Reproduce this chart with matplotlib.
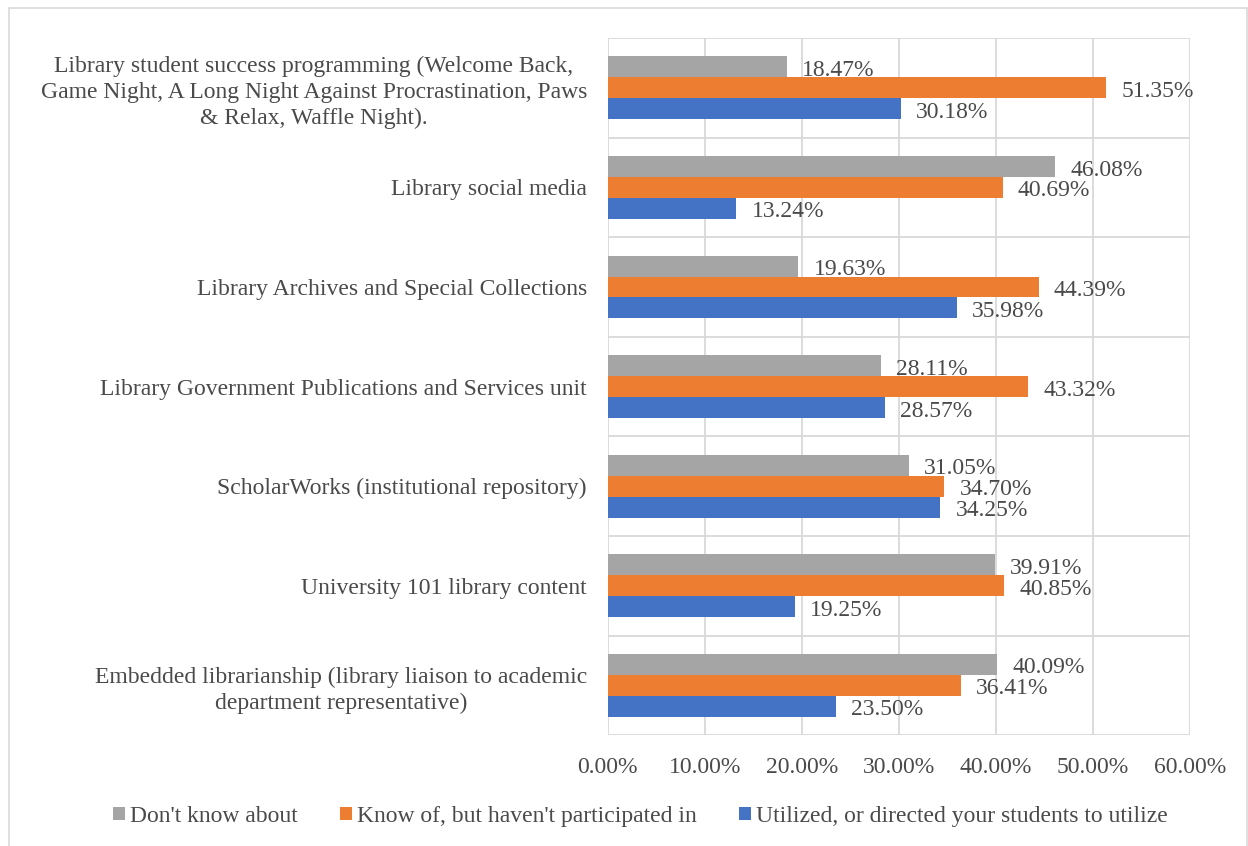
import numpy as np
import matplotlib
matplotlib.use("Agg")
import matplotlib.pyplot as plt
from matplotlib.patches import Rectangle
from matplotlib.ticker import FixedLocator, PercentFormatter

plt.rcParams['font.family'] = ['Liberation Serif', 'DejaVu Serif']

categories = [
    "Library student success programming (Welcome Back,\nGame Night, A Long Night Against Procrastination, Paws\n& Relax, Waffle Night).",
    "Library social media",
    "Library Archives and Special Collections",
    "Library Government Publications and Services unit",
    "ScholarWorks (institutional repository)",
    "University 101 library content",
    "Embedded librarianship (library liaison to academic\ndepartment representative)",
]
dont_know = [18.47, 46.08, 19.63, 28.11, 31.05, 39.91, 40.09]
know_of = [51.35, 40.69, 44.39, 43.32, 34.70, 40.85, 36.41]
utilized = [30.18, 13.24, 35.98, 28.57, 34.25, 19.25, 23.50]
series_names = ["Don't know about", "Know of, but haven't participated in",
                "Utilized, or directed your students to utilize"]
colors = ["#A5A5A5", "#ED7D31", "#4472C4"]

text_col = "#4A4A4A"
fs = 17

fig = plt.figure(figsize=(12.48, 8.46), dpi=100)
ax = fig.add_axes([0.487, 0.131, 0.4665, 0.824])

y = np.arange(len(categories))
h = 0.21
for k, (vals, c, name) in enumerate(zip([dont_know, know_of, utilized], colors, series_names)):
    pos = y + (k - 1) * h
    bars = ax.barh(pos, vals, height=h, color=c, label=name, zorder=3)
    for b, v in zip(bars, vals):
        ax.annotate(f"{v:.2f}%", (v, b.get_y() + h / 2), xytext=(11, -2.5),
                    textcoords="offset points", va="center", ha="left",
                    fontsize=fs, color=text_col, zorder=4)

ax.set_xlim(0, 60)
ax.set_ylim(len(categories) - 0.5, -0.5)
ax.set_xticks(np.arange(0, 61, 10))
ax.xaxis.set_major_formatter(PercentFormatter(decimals=2))
ax.set_yticks(y)
ax.set_yticklabels(categories, ha="right", multialignment="center", linespacing=1.3)
ax.yaxis.set_minor_locator(FixedLocator(np.arange(-0.5, len(categories), 1)))
ax.tick_params(axis="both", which="both", length=0, labelsize=fs, labelcolor=text_col)
ax.tick_params(axis="x", pad=16)
ax.tick_params(axis="y", pad=15)

ax.grid(axis="x", which="major", color="#D9D9D9", lw=1.3, zorder=0)
ax.grid(axis="y", which="minor", color="#D9D9D9", lw=1.3, zorder=0)
for s in ax.spines.values():
    s.set_visible(False)

leg = fig.legend(loc="center", bbox_to_anchor=(0.513, 0.035), ncol=3, frameon=False,
                 fontsize=fs, handlelength=0.5, handleheight=0.5, handletextpad=0.21,
                 columnspacing=1.8, labelcolor=text_col)

fig.patches.append(Rectangle((0.007, -0.01), 0.992, 1.0, transform=fig.transFigure,
                             fill=False, edgecolor="#D9D9D9", lw=1.2))

fig.savefig("out.png", dpi=100)
